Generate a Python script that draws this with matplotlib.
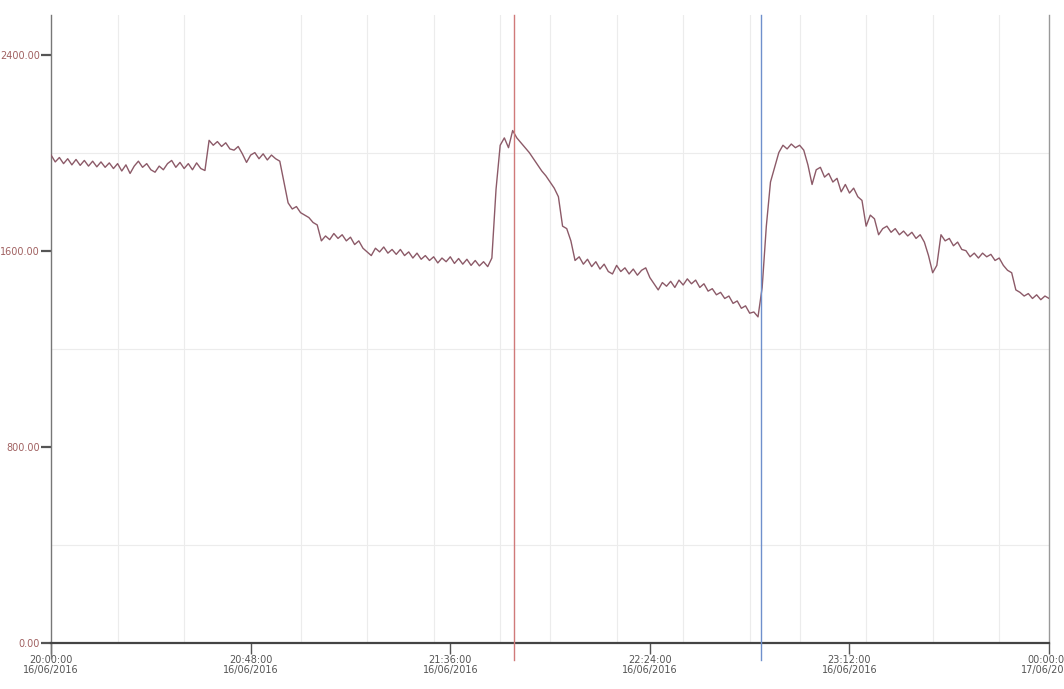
import matplotlib
matplotlib.use("Agg")
import matplotlib.pyplot as plt
import matplotlib.dates as mdates
import pandas as pd

start_time = "2016-06-16 20:00:00"
values = [
    1990, 1962, 1980, 1955, 1975, 1950, 1972, 1948, 1968, 1945,
    1965, 1942, 1962, 1940, 1958, 1935, 1955, 1925, 1950, 1915,
    1945, 1965, 1940, 1955, 1930, 1920, 1945, 1930, 1955, 1968,
    1940, 1960, 1935, 1955, 1930, 1958, 1935, 1927, 2050, 2030,
    2045, 2025, 2040, 2015, 2010, 2025, 1995, 1960, 1990, 2000,
    1975, 1995, 1970, 1990, 1975, 1965, 1880, 1795, 1770, 1780,
    1755, 1745, 1735, 1715, 1705, 1640, 1660, 1645, 1670, 1650,
    1665, 1640, 1655, 1625, 1640, 1610, 1595, 1580, 1610, 1595,
    1615, 1590, 1605, 1585, 1605, 1580, 1595, 1570, 1590, 1565,
    1580, 1560, 1575, 1550, 1570, 1555, 1575, 1548, 1568, 1545,
    1565, 1540, 1560, 1538, 1555, 1535, 1570, 1850, 2030, 2060,
    2020, 2090, 2060, 2040, 2020, 2000, 1975, 1950, 1925, 1905,
    1880, 1855, 1820, 1700, 1690, 1640, 1560, 1575, 1545, 1565,
    1535, 1555, 1525, 1545, 1515, 1505, 1540, 1515, 1530, 1505,
    1525, 1500, 1520, 1530, 1490, 1465, 1440, 1470, 1455, 1475,
    1450, 1480, 1460, 1485, 1465, 1480, 1450, 1465, 1435, 1445,
    1420, 1430, 1405, 1415, 1385, 1395, 1365, 1375, 1345, 1350,
    1330, 1450, 1700, 1880, 1940, 2000, 2030, 2015, 2035, 2020,
    2030, 2010, 1950, 1870, 1930, 1940, 1900, 1915, 1880, 1895,
    1840, 1870, 1835, 1855, 1820, 1805, 1700, 1745, 1730, 1665,
    1690, 1700, 1675, 1690, 1665, 1680, 1660, 1675, 1650, 1665,
    1635, 1580, 1510, 1540, 1665, 1640, 1650, 1620, 1635, 1605,
    1600, 1575, 1590, 1570, 1590, 1575, 1585, 1560, 1570, 1540,
    1520, 1510, 1440, 1430, 1415, 1425, 1405, 1420, 1400, 1415,
    1405,
]
red_cursor = "2016-06-16 21:51:20"
blue_cursor = "2016-06-16 22:50:45"
y_ticks = [0, 800, 1600, 2400]

times = pd.date_range(start=start_time, periods=len(values), freq="1min")

fig = plt.figure(figsize=(10.64, 6.89), dpi=100)
ax = fig.add_axes([0.048, 0.0668, 0.938, 0.911])

# grid
ax.xaxis.set_minor_locator(mdates.MinuteLocator(byminute=[0, 16, 32, 48], interval=1))
ax.set_yticks(range(0, 2561, 400), minor=True)
ax.grid(which="minor", color="#ececec", linewidth=0.8)

ax.plot(times, values, color="#8c5a68", linewidth=1.0, zorder=3)

ax.axvline(pd.Timestamp(red_cursor), ymin=-0.027, ymax=1, color="#d07a7a",
           linewidth=1.0, clip_on=False, zorder=4)
ax.axvline(pd.Timestamp(blue_cursor), ymin=-0.027, ymax=1, color="#6f90cc",
           linewidth=1.0, clip_on=False, zorder=4)

ax.set_xlim(pd.Timestamp(start_time), pd.Timestamp("2016-06-17 00:00:00"))
ax.set_ylim(0, 2560)

xt = pd.date_range(start=start_time, end="2016-06-17 00:00:00", freq="48min")
ax.set_xticks(xt)
ax.set_xticklabels([t.strftime("%H:%M:%S") + "\n" + t.strftime("%d/%m/%Y") for t in xt])
ax.set_yticks(y_ticks)
ax.set_yticklabels([f"{v:.2f}" for v in y_ticks])

fam = ["Liberation Sans Narrow", "DejaVu Sans"]
for lab in ax.get_xticklabels():
    lab.set_family(fam)
    lab.set_fontsize(7)
    lab.set_color("#555555")
    lab.set_linespacing(1.0)
for lab in ax.get_yticklabels():
    lab.set_family(fam)
    lab.set_fontsize(7)
    lab.set_color("#a06060")

ax.tick_params(axis="x", which="major", length=8, width=1.0, color="#555555", pad=1)
ax.tick_params(axis="y", which="major", length=7, width=1.6, color="#555555", pad=1)
ax.tick_params(which="minor", length=0)

ax.spines["top"].set_visible(False)
ax.spines["bottom"].set_color("#444444")
ax.spines["bottom"].set_linewidth(1.6)
ax.spines["left"].set_color("#777777")
ax.spines["left"].set_linewidth(1.0)
ax.spines["left"].set_bounds(-60, 2560)
ax.spines["right"].set_color("#999999")
ax.spines["right"].set_linewidth(1.0)

fig.savefig("out.png", dpi=100)
